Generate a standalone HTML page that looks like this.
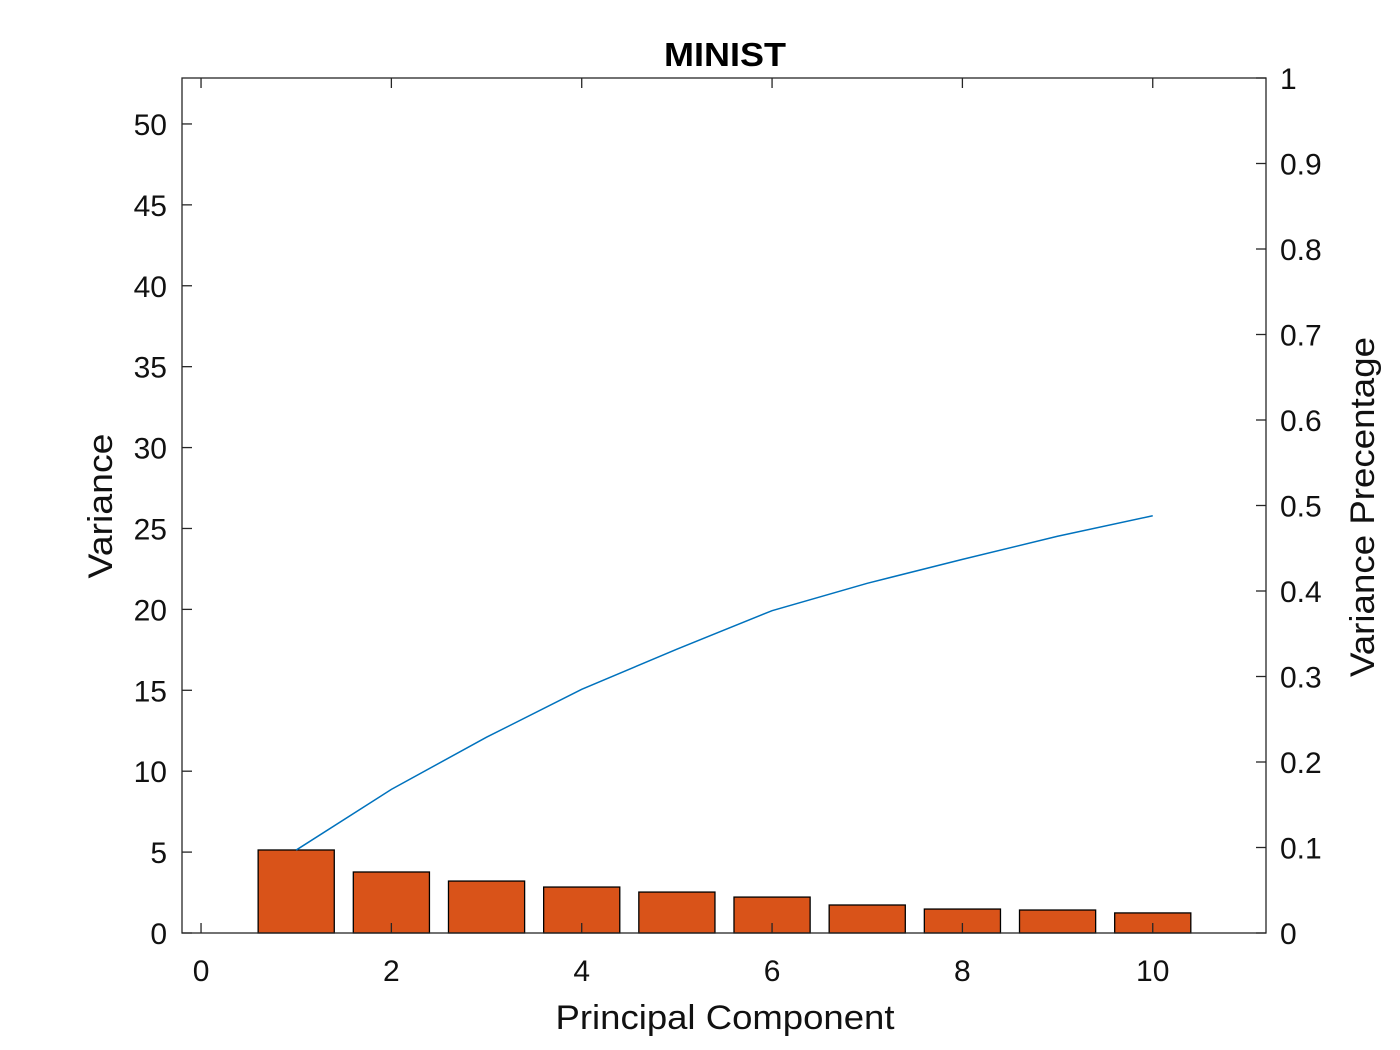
<!DOCTYPE html>
<html><head><meta charset="utf-8"><style>
html,body{margin:0;padding:0;background:#fff;}
svg{display:block;font-family:"Liberation Sans",Arial,sans-serif;}
</style></head><body>
<svg id="chart" width="1400" height="1050"></svg>
<script>
const categories=[1,2,3,4,5,6,7,8,9,10];
const varianceValues=[5.13,3.77,3.21,2.84,2.53,2.22,1.73,1.48,1.42,1.24];
const cumulativeValues=[0.097,0.168,0.229,0.285,0.332,0.377,0.409,0.437,0.464,0.488];
const xTicks=[0,2,4,6,8,10];
const yLeftTicks=[0,5,10,15,20,25,30,35,40,45,50];
const yRightTicks=[0,0.1,0.2,0.3,0.4,0.5,0.6,0.7,0.8,0.9,1];

const NS="http://www.w3.org/2000/svg";
const svg=document.getElementById('chart');
const L=182,R=1266,T=78,B=933;
const xMin=-0.2,xMax=11.19,yLMax=52.84;
const sx=v=>L+(v-xMin)/(xMax-xMin)*(R-L);
const syL=v=>B-v/yLMax*(B-T);
const syR=v=>B-v*(B-T);
function mk(tag,attrs,parent){const e=document.createElementNS(NS,tag);for(const k in attrs)e.setAttribute(k,attrs[k]);(parent||svg).appendChild(e);return e;}

categories.forEach((c,i)=>{
  const b=mk('rect',{x:sx(c-0.4),y:syL(varianceValues[i]),width:sx(c+0.4)-sx(c-0.4),height:B-syL(varianceValues[i]),fill:'#D95319',stroke:'#000','stroke-width':1.3});
  
  
});
const pts=categories.map((c,i)=>sx(c)+','+syR(cumulativeValues[i])).join(' ');
const ln=mk('polyline',{points:pts,fill:'none',stroke:'#0072BD','stroke-width':1.5});



const box=mk('rect',{x:L,y:T,width:R-L,height:B-T,fill:'none',stroke:'#262626','stroke-width':1.3});



xTicks.forEach(t=>{
  const x=sx(t);
  mk('line',{x1:x,y1:B,x2:x,y2:B-10,stroke:'#262626','stroke-width':1.3});
  mk('line',{x1:x,y1:T,x2:x,y2:T+10,stroke:'#262626','stroke-width':1.3});
  const tx=mk('text',{x:x,y:981,'text-anchor':'middle','font-size':30,fill:'#111'});
  tx.textContent=t;
  
  
});
yLeftTicks.forEach(t=>{
  const y=syL(t);
  mk('line',{x1:L,y1:y,x2:L+10,y2:y,stroke:'#262626','stroke-width':1.3});
  const tx=mk('text',{x:167,y:y+11,'text-anchor':'end','font-size':30,fill:'#111'});
  tx.textContent=t;
  
  
});
yRightTicks.forEach(t=>{
  const y=syR(t);
  mk('line',{x1:R,y1:y,x2:R-10,y2:y,stroke:'#262626','stroke-width':1.3});
  const tx=mk('text',{x:1280,y:y+11,'text-anchor':'start','font-size':30,fill:'#111'});
  tx.textContent=t;
  
  
});
</script>
<div style="position:absolute;left:0;top:0;width:1400px;height:1050px;pointer-events:none">
<svg width="1400" height="1050" style="font-family:'Liberation Sans',Arial,sans-serif">
<text x="725" y="66" text-anchor="middle" font-size="33" font-weight="bold" fill="#000" textLength="122" lengthAdjust="spacingAndGlyphs">MINIST</text>
<text x="725" y="1029" text-anchor="middle" font-size="34" fill="#111" textLength="339" lengthAdjust="spacingAndGlyphs">Principal Component</text>
<text transform="translate(112,506) rotate(-90)" text-anchor="middle" font-size="34" fill="#111" textLength="145" lengthAdjust="spacingAndGlyphs">Variance</text>
<text transform="translate(1374,507) rotate(-90)" text-anchor="middle" font-size="34" fill="#111" textLength="340" lengthAdjust="spacingAndGlyphs">Variance Precentage</text>
</svg></div>
</body></html>
